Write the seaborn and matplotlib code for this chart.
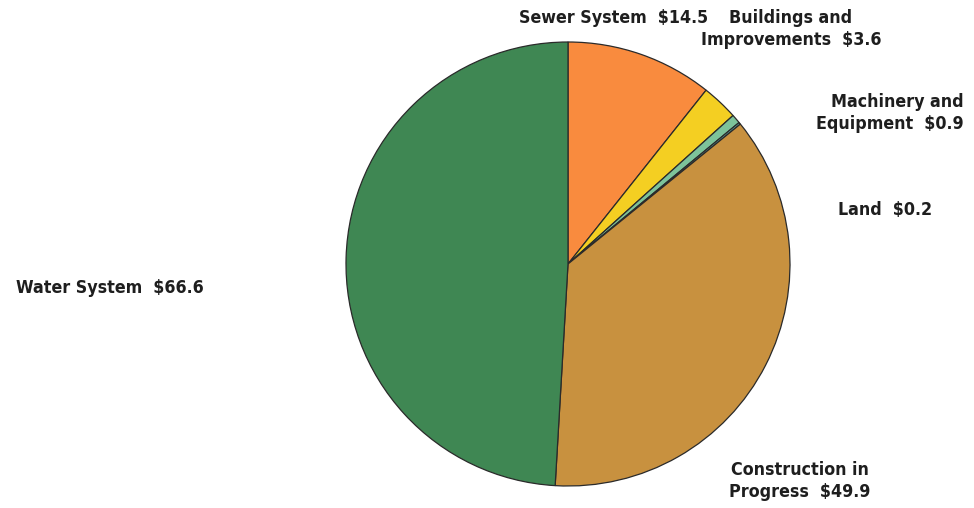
import matplotlib
matplotlib.use("Agg")
import matplotlib.pyplot as plt
import seaborn as sns

sns.set_theme(style="white")
plt.rcParams['font.family'] = ['DejaVu Sans']

categories = ["Sewer System", "Buildings and\nImprovements", "Machinery and\nEquipment",
              "Land", "Construction in\nProgress", "Water System"]
values = [14.5, 3.6, 0.9, 0.2, 49.9, 66.6]
value_labels = ["$14.5", "$3.6", "$0.9", "$0.2", "$49.9", "$66.6"]
colors = ["#f98b3e", "#f4cf22", "#7dc39a", "#5aa6a0", "#c8913f", "#3f8753"]

fig = plt.figure(figsize=(9.74, 5.08), dpi=100)
ax = fig.add_axes([346/974, 22/508, 444/974, 444/508])
ax.pie(values, colors=colors, startangle=90, counterclock=False,
       wedgeprops=dict(edgecolor="#2a2a2a", linewidth=0.9))
ax.set_xlim(-1.0, 1.0)
ax.set_ylim(-1.0, 1.0)
ax.set_aspect("equal")
ax.axis("off")

txt = dict(fontsize=12.8, fontweight="bold", fontstretch="condensed", color="#1e1e1e", va="center")
def label(i, x, y, ha="center", sep="  "):
    parts = categories[i].split("\n")
    if len(parts) == 2:
        s = parts[0] + "\n" + parts[1] + sep + value_labels[i]
    else:
        s = parts[0] + sep + value_labels[i]
    fig.text(x/974, 1 - y/508, s, ha=ha, multialignment="center" if ha == "center" else ha,
             linespacing=1.3, **txt)

label(0, 614, 18)
label(1, 791, 29)
label(2, 964, 113, ha="right")
label(3, 885, 210)
label(4, 800, 481)
label(5, 110, 288)

fig.savefig("out.png", dpi=100, facecolor="white")
